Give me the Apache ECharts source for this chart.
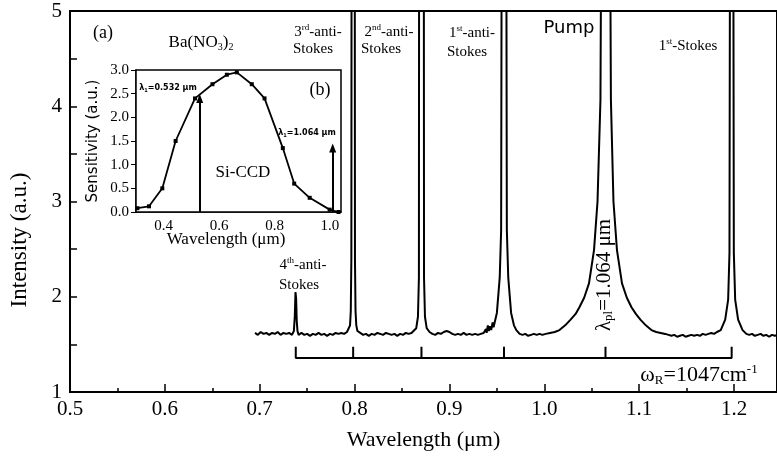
<!DOCTYPE html>
<html><head><meta charset="utf-8">
<script src="https://cdn.jsdelivr.net/npm/echarts@6/dist/echarts.min.js"></script>
<style>html,body{margin:0;padding:0;background:#fff}#c{width:777px;height:460px}</style>
</head><body><div id="c"></div>
<script>
// ---- Main spectrum (wavelength in µm, intensity a.u.) ----
const spectrum = [
[0.695,1.62],[0.698,1.60],[0.701,1.63],[0.704,1.61],[0.707,1.62],[0.710,1.60],[0.713,1.62],[0.716,1.61],
[0.719,1.63],[0.722,1.60],[0.725,1.62],[0.728,1.61],[0.731,1.62],[0.734,1.60],
[0.7360,1.64],[0.7370,1.80],[0.7377,2.05],[0.7384,1.98],[0.7390,1.75],[0.7398,1.64],[0.7410,1.60],
[0.744,1.62],[0.747,1.60],[0.750,1.61],[0.753,1.59],[0.756,1.61],[0.759,1.60],[0.762,1.62],[0.765,1.60],
[0.768,1.61],[0.771,1.59],[0.774,1.61],[0.777,1.60],[0.780,1.62],[0.783,1.61],[0.786,1.62],[0.789,1.61],[0.792,1.63],
[0.7940,1.64],[0.7952,1.70],[0.7960,1.85],[0.7966,2.4],[0.7968,5.6],[0.7985,9],[0.8002,5.6],[0.8004,2.4],
[0.8010,1.85],[0.8018,1.70],[0.8030,1.64],
[0.806,1.62],[0.809,1.60],[0.812,1.61],[0.815,1.59],[0.818,1.61],[0.821,1.60],[0.824,1.62],[0.827,1.61],
[0.830,1.60],[0.833,1.62],[0.836,1.61],[0.839,1.60],[0.842,1.61],[0.845,1.59],[0.848,1.61],[0.851,1.60],
[0.854,1.62],[0.857,1.61],[0.860,1.62],
[0.8620,1.64],[0.8650,1.67],[0.8668,1.79],[0.8678,2.2],[0.8680,5.6],[0.8705,9],[0.8730,5.6],[0.8732,2.2],
[0.8742,1.79],[0.8760,1.67],[0.8790,1.63],
[0.882,1.61],[0.885,1.60],[0.888,1.62],[0.891,1.61],[0.894,1.63],[0.897,1.64],[0.900,1.63],[0.903,1.61],
[0.906,1.60],[0.909,1.61],[0.912,1.60],[0.915,1.62],[0.918,1.60],[0.921,1.61],[0.924,1.60],[0.927,1.61],
[0.930,1.60],[0.933,1.61],[0.936,1.62],
[0.9385,1.66],[0.9392,1.62],[0.9405,1.70],[0.9415,1.64],[0.9428,1.69],[0.9440,1.65],[0.9455,1.73],[0.9465,1.68],
[0.9480,1.70],[0.9500,1.83],[0.9530,2.2],[0.9545,2.7],[0.9550,5.6],[0.9575,9],[0.9600,5.6],[0.9605,2.7],
[0.9620,2.2],[0.9650,1.83],[0.9680,1.70],[0.9705,1.65],[0.974,1.61],
[0.977,1.60],[0.980,1.61],[0.983,1.59],[0.986,1.60],[0.989,1.61],[0.992,1.60],[0.995,1.61],[0.998,1.60],
[1.0015,1.61],[1.006,1.62],[1.011,1.63],[1.016,1.65],[1.022,1.70],[1.0277,1.76],[1.033,1.82],[1.037,1.89],
[1.042,1.99],[1.0471,2.14],[1.0524,2.49],[1.0561,3.0],[1.0592,4.07],[1.0597,5.2],[1.0645,9],[1.0697,5.2],
[1.0702,4.07],[1.0729,3.0],[1.0766,2.49],[1.0819,2.14],[1.0870,1.99],[1.0919,1.89],[1.0965,1.82],[1.1013,1.76],
[1.1070,1.70],[1.1129,1.65],[1.118,1.63],[1.1275,1.61],
[1.131,1.60],[1.134,1.59],[1.137,1.60],[1.140,1.58],[1.143,1.59],[1.146,1.60],[1.149,1.58],[1.152,1.59],
[1.155,1.60],[1.158,1.59],[1.161,1.60],[1.164,1.59],[1.167,1.61],[1.170,1.60],[1.173,1.61],[1.176,1.62],
[1.179,1.61],[1.182,1.63],
[1.1860,1.65],[1.1907,1.76],[1.1938,1.97],[1.1952,2.46],[1.1957,5.6],[1.1975,9],[1.1993,5.6],[1.1998,2.46],
[1.2012,1.97],[1.2043,1.76],[1.2090,1.65],
[1.213,1.61],[1.216,1.60],[1.219,1.61],[1.222,1.59],[1.225,1.60],[1.228,1.61],[1.231,1.59],[1.234,1.60],
[1.237,1.58],[1.240,1.60],[1.243,1.59],[1.246,1.60]
];
// Raman line positions marked by the bracket (µm)
const ramanLines = [0.738, 0.7985, 0.8705, 0.9575, 1.0645, 1.1975];
const bracketBase = 1.357;
const bracketTop = 1.475;

// ---- Inset (b): Si-CCD sensitivity ----
const sensWavelength = [0.305,0.347,0.395,0.443,0.513,0.576,0.628,0.664,0.718,0.764,0.830,0.871,0.927,0.999,1.031];
const sensValue      = [0.08, 0.12, 0.5,  1.5,  2.4,  2.7,  2.9,  2.95, 2.7,  2.4,  1.35, 0.6,  0.3,  0.05, 0.0];
const arrowX = [0.53, 1.01];
const arrowY = [2.4, 1.35];

const SERIF = "'Liberation Serif','Times New Roman',serif";
const SANS = "'DejaVu Sans','Liberation Sans',sans-serif";

const bracket = [];
ramanLines.forEach((x, i) => {
  if (i === 0) { bracket.push([x, bracketTop]); bracket.push([x, bracketBase]); }
  else { bracket.push([x, bracketBase]); bracket.push([x, bracketTop]); bracket.push([x, bracketBase]); }
});

function txt(x, y, text, size, opts) {
  opts = opts || {};
  const fam = opts.family || SERIF;
  const w = opts.weight || 'normal';
  const small = Math.round(size * 0.6);
  return {
    type: 'text', x: x, y: y, rotation: opts.rotation || 0, silent: true, z: 100,
    style: {
      text: text, fill: '#000', fontFamily: fam, fontSize: size, fontWeight: w,
      align: 'center', verticalAlign: 'middle', lineHeight: size + 2,
      rich: {
        sup: {fontFamily: fam, fontSize: small, fontWeight: w, verticalAlign: 'top', lineHeight: 10, fill: '#000'},
        sub: {fontFamily: fam, fontSize: small, fontWeight: w, verticalAlign: 'bottom', lineHeight: 10, fill: '#000'}
      }
    }
  };
}

const chart = echarts.init(document.getElementById('c'), null, {renderer: 'canvas'});
const option = {
  animation: false,
  backgroundColor: '#fff',
  grid: [
    {left: 70, top: 11, width: 708, height: 381, show: true, borderColor: '#000', borderWidth: 2},
    {left: 136, top: 70, width: 205, height: 142, show: true, borderColor: '#000', borderWidth: 1.5, backgroundColor: '#fff', z: 5}
  ],
  xAxis: [
    {type: 'value', gridIndex: 0, min: 0.5, max: 1.2453, interval: 0.1,
     name: 'Wavelength (μm)', nameLocation: 'middle', nameGap: 37,
     nameTextStyle: {fontFamily: SERIF, fontSize: 22, color: '#000'},
     axisLine: {show: true, lineStyle: {color: '#000', width: 2}},
     axisTick: {show: true, inside: true, length: 8, lineStyle: {color: '#000', width: 1.5}},
     minorTick: {show: true, splitNumber: 2, length: 4, lineStyle: {color: '#000', width: 1.5}},
     splitLine: {show: false},
     axisLabel: {color: '#000', fontFamily: SERIF, fontSize: 21, margin: 7, showMaxLabel: false,
       formatter: v => Math.abs(v*10 - Math.round(v*10)) < 1e-6 ? v.toFixed(1) : ''}},
    {type: 'value', gridIndex: 1, min: 0.3, max: 1.04, interval: 0.1,
     axisLine: {show: true, lineStyle: {color: '#000', width: 1.5}},
     axisTick: {show: true, inside: true, length: 4, lineStyle: {color: '#000', width: 1}},
     splitLine: {show: false},
     axisLabel: {color: '#000', fontFamily: SERIF, fontSize: 15, margin: 7, showMaxLabel: false,
       formatter: v => (Math.abs(v*10 - Math.round(v*10)) < 1e-6 && Math.round(v*10) % 2 === 0) ? v.toFixed(1) : ''}}
  ],
  yAxis: [
    {type: 'value', gridIndex: 0, min: 1, max: 5, interval: 1,
     axisLine: {show: true, lineStyle: {color: '#000', width: 2}},
     axisTick: {show: true, inside: true, length: 7, lineStyle: {color: '#000', width: 1.5}},
     minorTick: {show: true, splitNumber: 2, length: 7, lineStyle: {color: '#000', width: 1.5}},
     splitLine: {show: false},
     axisLabel: {color: '#000', fontFamily: SERIF, fontSize: 21, margin: 8}},
    {type: 'value', gridIndex: 1, min: 0, max: 3, interval: 0.5,
     name: 'Sensitivity (a.u.)', nameLocation: 'middle', nameGap: 35,
     nameTextStyle: {fontFamily: SANS, fontSize: 15, color: '#000'},
     axisLine: {show: true, lineStyle: {color: '#000', width: 1.5}},
     axisTick: {show: true, inside: false, length: 5, lineStyle: {color: '#000', width: 1}},
     splitLine: {show: false},
     axisLabel: {color: '#000', fontFamily: SERIF, fontSize: 15, margin: 7, formatter: v => v.toFixed(1)}}
  ],
  series: [
    {type: 'line', xAxisIndex: 0, yAxisIndex: 0, data: spectrum, showSymbol: false, symbol: 'none',
     clip: true, lineStyle: {color: '#000', width: 2}, silent: true, z: 3},
    {type: 'line', xAxisIndex: 0, yAxisIndex: 0, data: bracket, showSymbol: false, symbol: 'none',
     lineStyle: {color: '#000', width: 2}, silent: true, z: 3},
    {type: 'line', xAxisIndex: 1, yAxisIndex: 1, z: 10,
     data: sensWavelength.map((x, i) => [x, sensValue[i]]),
     symbol: 'rect', symbolSize: 4, itemStyle: {color: '#000'}, lineStyle: {color: '#000', width: 1.8},
     silent: true,
     markLine: {silent: true, symbol: ['none', 'triangle'], symbolSize: [7, 9], animation: false,
       lineStyle: {color: '#000', width: 2, type: 'solid'}, label: {show: false},
       data: arrowX.map((x, i) => [{coord: [x, 0]}, {coord: [x, arrowY[i]]}])}}
  ],
  graphic: [
    txt(20, 240, 'Intensity (a.u.)', 23, {rotation: Math.PI/2}),
    txt(226, 240, 'Wavelength (μm)', 17),
    txt(103, 33, '(a)', 18),
    txt(201, 43, 'Ba(NO{sub|3}){sub|2}', 17),
    txt(318, 32, '3{sup|rd}-anti-', 15),
    txt(313, 49, 'Stokes', 15),
    txt(389, 32, '2{sup|nd}-anti-', 15),
    txt(381, 49, 'Stokes', 15),
    txt(472, 33, '1{sup|st}-anti-', 15),
    txt(467, 52, 'Stokes', 15),
    txt(569, 28, 'Pump', 18, {family: SANS}),
    txt(688, 46, '1{sup|st}-Stokes', 15),
    txt(303, 265, '4{sup|th}-anti-', 15),
    txt(299, 285, 'Stokes', 15),
    txt(604, 275, 'λ{sub|pl}=1.064 μm', 21, {rotation: Math.PI/2}),
    txt(699, 375, 'ω{sub|R}=1047cm{sup|-1}', 22),
    txt(320, 90, '(b)', 18),
    txt(243, 173, 'Si-CCD', 17),
    txt(168, 88, 'λ{sub|1}=0.532 μm', 8, {family: SANS, weight: 'bold'}),
    txt(307, 133, 'λ{sub|1}=1.064 μm', 8, {family: SANS, weight: 'bold'})
  ]
};
chart.setOption(option);
</script>
</body></html>
